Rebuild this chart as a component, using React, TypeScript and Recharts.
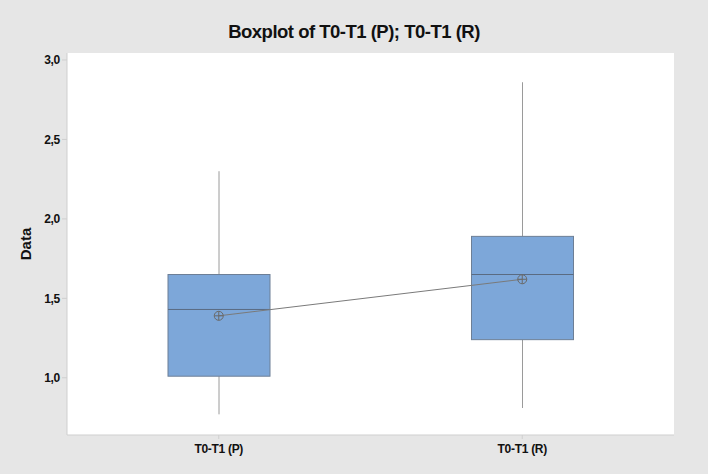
import React from "react";
import { ComposedChart, Bar, Line, XAxis, YAxis, CartesianGrid } from "recharts";

const groups = ["T0-T1 (P)", "T0-T1 (R)"];
const whiskerLow = [0.77, 0.81];
const q1 = [1.01, 1.24];
const median = [1.43, 1.65];
const q3 = [1.65, 1.89];
const whiskerHigh = [2.3, 2.86];
const means = [1.39, 1.62];
const yTicks = [1.0, 1.5, 2.0, 2.5, 3.0];

const data = groups.map((name, i) => ({
  name,
  low: whiskerLow[i],
  q1: q1[i],
  median: median[i],
  q3: q3[i],
  high: whiskerHigh[i],
  mean: means[i],
  box: [q1[i], q3[i]],
}));

const FONT = "'Liberation Sans', Arial, sans-serif";

// eslint-disable-next-line @typescript-eslint/no-explicit-any
const BoxShape = (props: any) => {
  const { x, y, width, height, payload } = props;
  const top = Math.min(y, y + height);
  const h = Math.abs(height);
  const ppu = h / (payload.q3 - payload.q1);
  const toY = (v: number) => top + (payload.q3 - v) * ppu;
  const cx = x + width / 2;
  return (
    <g>
      <line x1={cx} x2={cx} y1={toY(payload.high)} y2={top} stroke="#9a9a9a" strokeWidth={1} />
      <line x1={cx} x2={cx} y1={top + h} y2={toY(payload.low)} stroke="#9a9a9a" strokeWidth={1} />
      <rect x={x} y={top} width={width} height={h} fill="#7da7d9" stroke="#6d7f96" strokeWidth={1} />
      <line x1={x} x2={x + width} y1={toY(payload.median)} y2={toY(payload.median)} stroke="#5a6b82" strokeWidth={1} />
    </g>
  );
};

// eslint-disable-next-line @typescript-eslint/no-explicit-any
const MeanDot = (props: any) => {
  const { cx, cy, index } = props;
  const r = 4.5;
  return (
    <g key={index}>
      <circle cx={cx} cy={cy} r={r} fill="none" stroke="#6a6a6a" strokeWidth={1} />
      <line x1={cx - r} x2={cx + r} y1={cy} y2={cy} stroke="#6a6a6a" strokeWidth={1} />
      <line x1={cx} x2={cx} y1={cy - r} y2={cy + r} stroke="#6a6a6a" strokeWidth={1} />
    </g>
  );
};

export default function App() {
  return (
    <div
      style={{
        position: "absolute",
        left: 0,
        top: 0,
        width: 708,
        height: 474,
        background: "#e6e6e6",
        fontFamily: FONT,
      }}
    >
      <div
        style={{
          position: "absolute",
          top: 21,
          left: 0,
          width: 708,
          textAlign: "center",
          fontSize: 18.5,
          fontWeight: "bold",
          color: "#111",
          letterSpacing: -0.5,
        }}
      >
        Boxplot of T0-T1 (P); T0-T1 (R)
      </div>
      <div style={{ position: "absolute", left: 0, top: 0 }}>
        <ComposedChart
          width={708}
          height={474}
          data={data}
          margin={{ top: 53, right: 34, bottom: 9, left: 0 }}
        >
          <CartesianGrid fill="#ffffff" horizontal={false} vertical={false} />
          <XAxis
            dataKey="name"
            height={30}
            stroke="#cfcfcf"
            tickSize={4}
            tickMargin={5}
            tick={{ fontSize: 12, fontWeight: "bold", fill: "#111", fontFamily: FONT, letterSpacing: -0.3 }}
          />
          <XAxis xAxisId="top" orientation="top" height={0} tick={false} stroke="#d6d6d6" />
          <YAxis
            width={67}
            type="number"
            domain={[0.64, 3.044]}
            ticks={yTicks}
            allowDataOverflow
            stroke="#cfcfcf"
            tickSize={5}
            tickFormatter={(v: number) => v.toFixed(1).replace(".", ",")}
            tick={{ fontSize: 12, fontWeight: "bold", fill: "#111", fontFamily: FONT, letterSpacing: -0.3 }}
            label={{
              value: "Data",
              angle: -90,
              position: "center",
              dx: -8,
              style: { fontSize: 15, fontWeight: "bold", fill: "#111", fontFamily: FONT },
            }}
          />
          <YAxis yAxisId="right" orientation="right" width={0} tick={false} stroke="#d6d6d6" domain={[0.64, 3.044]} />
          <Bar dataKey="box" barSize={102} shape={BoxShape} isAnimationActive={false} />
          <Line
            dataKey="mean"
            stroke="#7a7a7a"
            strokeWidth={1}
            dot={MeanDot}
            activeDot={false}
            isAnimationActive={false}
          />
        </ComposedChart>
      </div>
    </div>
  );
}
